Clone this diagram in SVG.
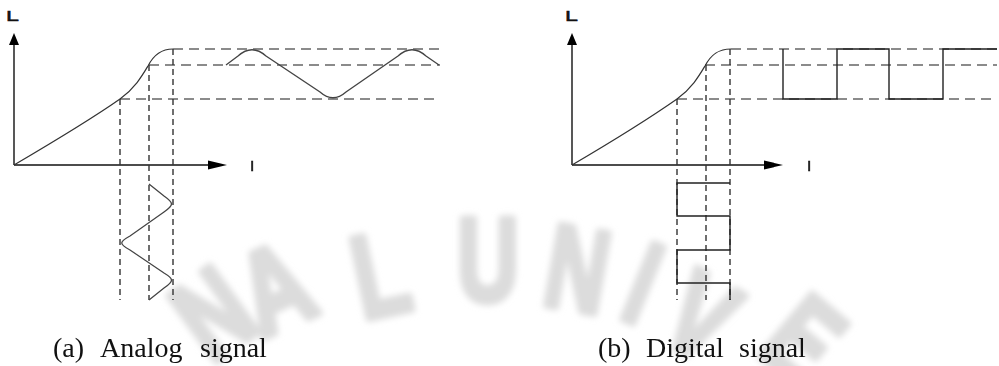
<svg xmlns="http://www.w3.org/2000/svg" width="999" height="366" viewBox="0 0 999 366">
<defs>
<filter id="soft" x="-30%" y="-30%" width="160%" height="160%"><feGaussianBlur stdDeviation="3"/></filter>
</defs>
<style>
.axis{stroke:#111;stroke-width:1.4;fill:none}
.curve{stroke:#333;stroke-width:1.2;fill:none}
.hd{stroke:#666;stroke-width:1.4;stroke-dasharray:10 6;fill:none}
.vd{stroke:#333;stroke-width:1.4;stroke-dasharray:6 4;fill:none}
.sig{stroke:#444;stroke-width:1.3;fill:none}
.sq{stroke:#222;stroke-width:1.4;fill:none}
.head{fill:#000}
.lbl{font-family:"Liberation Sans",Arial,sans-serif;font-size:15.5px;fill:#111;stroke:#111;stroke-width:0.5}
.cap{font-family:"Liberation Serif","Times New Roman",serif;font-size:28px;fill:#111}
.wm{font-family:"Liberation Sans",Arial,sans-serif;font-weight:bold;font-size:118px;fill:#dcdcdc;stroke:#dcdcdc;stroke-width:7;stroke-linejoin:round}
</style>
<rect width="999" height="366" fill="#fff"/>
<g id="watermark" filter="url(#soft)">
<text class="wm" text-anchor="middle" y="43" transform="translate(212,312) rotate(-36) scale(0.75,1)">N</text>
<text class="wm" text-anchor="middle" y="43" transform="translate(274,286) rotate(-24) scale(0.78,1)">A</text>
<text class="wm" text-anchor="middle" y="43" transform="translate(380,272) rotate(-12) scale(0.75,1)">L</text>
<text class="wm" text-anchor="middle" y="43" transform="translate(488,258) rotate(0) scale(0.72,1)">U</text>
<text class="wm" text-anchor="middle" y="43" transform="translate(578,267) rotate(10) scale(0.72,1)">N</text>
<text class="wm" text-anchor="middle" y="43" transform="translate(644,281) rotate(22) scale(0.72,1)">I</text>
<text class="wm" text-anchor="middle" y="43" transform="translate(702,315) rotate(30) scale(0.75,1)">V</text>
<text class="wm" text-anchor="middle" y="43" transform="translate(805,338) rotate(40) scale(0.75,1)">E</text>
</g>

<g id="panel-a">
 <g id="axes-a">
  <line class="axis" x1="14" y1="165" x2="14" y2="42"/>
  <polygon class="head" points="14,33 9,45 19,45"/>
  <line class="axis" x1="14" y1="165" x2="212" y2="165"/>
  <polygon class="head" points="227,165 208,160.5 208,169.5"/>
  <text class="lbl" x="6" y="21" transform="translate(6,0) scale(1.5,1) translate(-6,0)">L</text>
  <text class="lbl" x="250" y="171">I</text>
 </g>
 <g id="guides-a">
  <line class="hd" x1="173" y1="49" x2="440" y2="49"/>
  <line class="hd" x1="149" y1="65" x2="440" y2="65"/>
  <line class="hd" x1="120" y1="99" x2="440" y2="99"/>
  <line class="vd" x1="120" y1="99" x2="120" y2="300"/>
  <line class="vd" x1="149" y1="65" x2="149" y2="300"/>
  <line class="vd" x1="173" y1="49" x2="173" y2="300"/>
 </g>
 <path id="curve-a" class="curve" d="M14,165 C60,138 100,113 120,99 C135,88 142,76 148,66 C153,56 160,49 173,49"/>
 <path id="input-a" class="sig" d="M149,184 L164,196 C174,203 174,205 164,212 L130,236 C119,242 119,244 130,250 L164,273 C174,279 174,281 164,288 L149,300"/>
 <path id="output-a" class="sig" d="M226,65 L238,56 C247,48 257,48 266,56 L320,92 C329,100 337,100 346,92 L398,56 C407,48 417,48 426,56 L439,65"/>
 <text id="caption-a" class="cap" y="357"><tspan x="53">(a)</tspan><tspan x="100">Analog</tspan><tspan x="200">signal</tspan></text>
</g>

<g id="panel-b">
 <g id="axes-b">
  <line class="axis" x1="572" y1="165" x2="572" y2="42"/>
  <polygon class="head" points="572,33 567,45 577,45"/>
  <line class="axis" x1="572" y1="165" x2="768" y2="165"/>
  <polygon class="head" points="783,165 764,160.5 764,169.5"/>
  <text class="lbl" x="565" y="21" transform="translate(565,0) scale(1.5,1) translate(-565,0)">L</text>
  <text class="lbl" x="807" y="171">I</text>
 </g>
 <g id="guides-b">
  <line class="hd" x1="731" y1="49" x2="997" y2="49"/>
  <line class="hd" x1="705" y1="65" x2="997" y2="65"/>
  <line class="hd" x1="677" y1="99" x2="997" y2="99"/>
  <line class="vd" x1="677" y1="99" x2="677" y2="300"/>
  <line class="vd" x1="706" y1="65" x2="706" y2="300"/>
  <line class="vd" x1="730" y1="49" x2="730" y2="300"/>
 </g>
 <path id="curve-b" class="curve" d="M572,165 C618,138 657,113 677,99 C692,88 699,76 705,66 C710,56 717,49 731,49"/>
 <path id="input-b" class="sq" d="M730,183 L677,183 L677,216 L730,216 L730,250 L677,250 L677,283 L730,283 L730,300"/>
 <path id="output-b" class="sq" d="M783,49 L783,99 L837,99 L837,49 L889,49 L889,99 L943,99 L943,49 L997,49"/>
 <text id="caption-b" class="cap" y="357"><tspan x="598">(b)</tspan><tspan x="646">Digital</tspan><tspan x="739">signal</tspan></text>
</g>
</svg>
